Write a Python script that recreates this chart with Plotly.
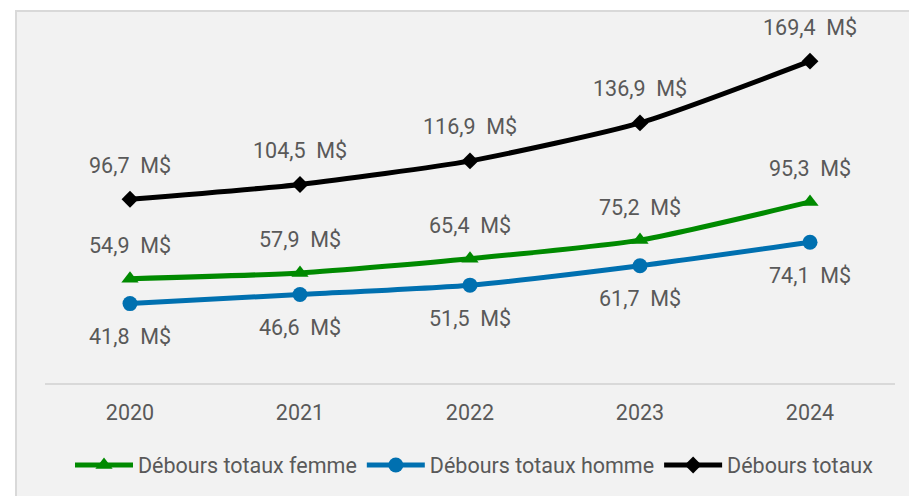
import plotly.graph_objects as go

years = [2020, 2021, 2022, 2023, 2024]
tick_labels = ["2020", "2021", "2022", "2023", "2024"]
femme = [54.9, 57.9, 65.4, 75.2, 95.3]
homme = [41.8, 46.6, 51.5, 61.7, 74.1]
total = [96.7, 104.5, 116.9, 136.9, 169.4]

names = ["Débours totaux femme", "Débours totaux homme", "Débours totaux"]
colors = ["#008a00", "#0070b0", "#000000"]
symbols = ["triangle-up", "circle", "diamond"]
sizes = [15, 15, 13]
shifts = [33, -33, 34]

FONT = "Roboto"
TXT = "#595959"
FS = 21.5

W, H = 909, 496
ml, mr, mt, mb = 45, 14, 41, 113

def fmt(v):
    return f"{v:.1f}".replace(".", ",") + "&nbsp; M&#36;"

fig = go.Figure()
for name, vals, col, sym, sz in zip(names, [femme, homme, total], colors, symbols, sizes):
    fig.add_trace(go.Scatter(
        x=years, y=vals, name=name, mode="lines+markers",
        line=dict(color=col, width=5, shape="spline", smoothing=0.6),
        marker=dict(symbol=sym, size=sz, color=col),
        cliponaxis=False,
    ))

for vals, sh in zip([femme, homme, total], shifts):
    for x, v in zip(years, vals):
        fig.add_annotation(x=x, y=v, xref="x", yref="y", text=fmt(v), showarrow=False,
                           yshift=sh, font=dict(family=FONT, size=FS, color=TXT))

pw = W - ml - mr
ph = H - mt - mb
x0 = (16 - ml) / pw
y1 = (H - mb - 11) / ph
fig.add_shape(type="rect", xref="paper", yref="paper", x0=x0, x1=1.2, y0=-0.6, y1=y1,
              fillcolor="#f2f2f2", line=dict(color="#d9d9d9", width=2), layer="below")

fig.update_layout(
    width=W, height=H,
    margin=dict(l=ml, r=mr, t=mt, b=mb, autoexpand=False),
    paper_bgcolor="white", plot_bgcolor="rgba(0,0,0,0)",
    font=dict(family=FONT, size=FS, color=TXT),
    showlegend=True,
    legend=dict(orientation="h", xref="container", yref="container",
                x=70 / W, xanchor="left", y=(H - 465) / H, yanchor="middle",
                font=dict(family=FONT, size=FS, color=TXT), bgcolor="rgba(0,0,0,0)",
                itemwidth=58),
    xaxis=dict(range=[2019.5, 2024.5], tickvals=years, ticktext=tick_labels,
               showgrid=False, zeroline=False,
               showline=True, linecolor="#d9d9d9", linewidth=2, ticks="",
               ticklabelstandoff=9, tickfont=dict(family=FONT, size=FS, color=TXT)),
    yaxis=dict(range=[0, 180], visible=False, showgrid=False, zeroline=False),
)

fig.write_html("out.html", config={"displayModeBar": False},
               post_script="document.body.style.margin='0';")
